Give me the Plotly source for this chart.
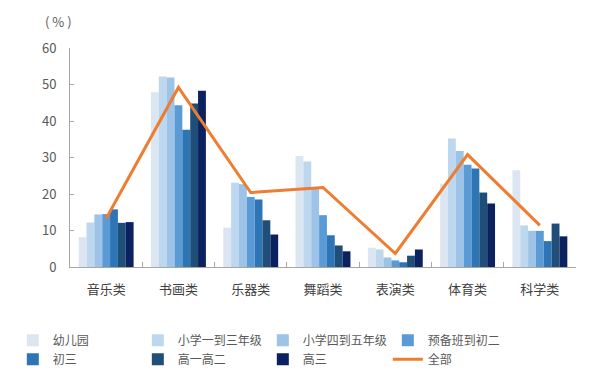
import plotly.graph_objects as go

categories = ["音乐类", "书画类", "乐器类", "舞蹈类", "表演类", "体育类", "科学类"]
series_names = ["幼儿园", "小学一到三年级", "小学四到五年级", "预备班到初二", "初三", "高一高二", "高三"]
kindergarten = [8.2, 47.9, 10.8, 30.4, 5.3, 22.8, 26.5]
primary_1_3 = [12.2, 52.2, 23.1, 28.9, 4.8, 35.2, 11.4]
primary_4_5 = [14.4, 51.9, 22.7, 21.5, 2.6, 31.8, 9.9]
pre_to_junior2 = [14.5, 44.3, 19.2, 14.2, 1.8, 28.0, 9.9]
junior3 = [15.8, 37.6, 18.5, 8.7, 1.3, 27.0, 7.1]
senior1_2 = [12.1, 44.8, 12.8, 5.9, 3.1, 20.4, 11.9]
senior3 = [12.3, 48.3, 8.9, 4.3, 4.8, 17.4, 8.4]
overall = [13.3, 49.2, 20.4, 21.8, 3.7, 30.8, 11.4]
y_ticks = [0, 10, 20, 30, 40, 50, 60]

colors = ["#dce6f2", "#bdd7ee", "#9dc3e6", "#5b9bd5", "#2e75b6", "#1f4e79", "#0c2160"]
series_values = [kindergarten, primary_1_3, primary_4_5, pre_to_junior2, junior3, senior1_2, senior3]

font_family = "Noto Sans CJK SC, Noto Sans, sans-serif"
fig = go.Figure()
for name, vals, c in zip(series_names, series_values, colors):
    fig.add_trace(go.Bar(name=name, x=categories, y=vals, marker=dict(color=c, line=dict(width=0))))
fig.add_trace(go.Scatter(name="全部", x=categories, y=overall, mode="lines",
                         line=dict(color="#ed7d31", width=3)))

fig.update_layout(
    width=600, height=389,
    margin=dict(l=62, r=32, t=40, b=130, autoexpand=False),
    plot_bgcolor="white", paper_bgcolor="white",
    barmode="group", bargap=0.24, bargroupgap=0,
    font=dict(family=font_family, size=12, color="#595959"),
    showlegend=True,
    legend=dict(orientation="h", x=-0.113, y=-0.268, xanchor="left", yanchor="top",
                entrywidth=80, entrywidthmode="pixels", tracegroupgap=0,
                font=dict(size=12, color="#595959"), itemwidth=30),
    annotations=[dict(text="( % )", xref="paper", yref="paper", x=-0.022, y=1.12,
                      xanchor="center", yanchor="middle", showarrow=False,
                      font=dict(size=13, color="#595959"))],
)
fig.update_xaxes(showline=True, linecolor="#a6a6a6", linewidth=1, ticks="inside",
                 tickcolor="#a6a6a6", ticklen=5, showgrid=False,
                 tickson="boundaries", ticklabelstandoff=10,
                 tickfont=dict(size=13, color="#404040"))
fig.update_yaxes(range=[0, 60], tickvals=y_ticks, showline=True, linecolor="#a6a6a6",
                 linewidth=1, ticks="inside", tickcolor="#a6a6a6", ticklen=4,
                 showgrid=False, zeroline=False, ticklabelstandoff=10,
                 tickfont=dict(size=13, color="#595959"))
fig.write_html("out.html")
